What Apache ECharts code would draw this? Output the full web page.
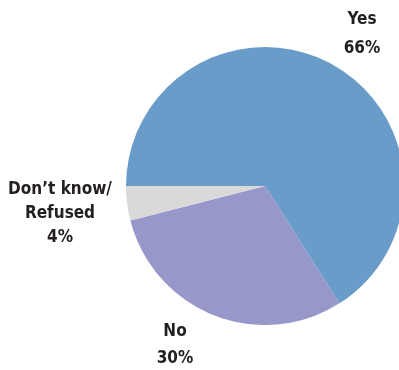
<!DOCTYPE html>
<html>
<head>
<meta charset="utf-8">
<script src="https://cdn.jsdelivr.net/npm/echarts@6/dist/echarts.min.js"></script>
<style>
  html, body { margin: 0; padding: 0; background: #fff; }
  #chart { width: 399px; height: 370px; }
</style>
</head>
<body>
<div id="chart"></div>
<script>
// Survey responses (percent)
const categories = ['Yes', 'No', 'Don\u2019t know/\nRefused'];
const values = [66, 30, 4];
const colors = ['#6a9cca', '#9797c9', '#d9d9da'];

// Label anchor points (centre x, top y) and line spacing for each slice
const labelSpots = [
  { x: 362, y: 5.5, lh: 29 },
  { x: 175, y: 318.5, lh: 27 },
  { x: 60, y: 178, lh: 24 }
];

const chart = echarts.init(document.getElementById('chart'), null, { renderer: 'canvas' });

chart.setOption({
  animation: false,
  series: [{
    type: 'pie',
    center: [265, 186],
    radius: 139,
    startAngle: 180,
    clockwise: true,
    silent: true,
    avoidLabelOverlap: false,
    data: categories.map((name, i) => ({
      name: name,
      value: values[i],
      itemStyle: { color: colors[i] },
      label: { lineHeight: labelSpots[i].lh }
    })),
    label: {
      show: true,
      position: 'outside',
      overflow: 'none',
      formatter: p => p.name + '\n' + p.value + '%',
      fontFamily: '"Liberation Sans Narrow", "DejaVu Sans Condensed", "Roboto Condensed", sans-serif',
      fontWeight: 'bold',
      fontSize: 17,
      color: '#231f20',
      align: 'center',
      verticalAlign: 'top'
    },
    labelLine: { show: false },
    labelLayout: params => ({
      x: labelSpots[params.dataIndex].x,
      y: labelSpots[params.dataIndex].y,
      align: 'center',
      verticalAlign: 'top',
      hideOverlap: false
    })
  }]
});
</script>
</body>
</html>
